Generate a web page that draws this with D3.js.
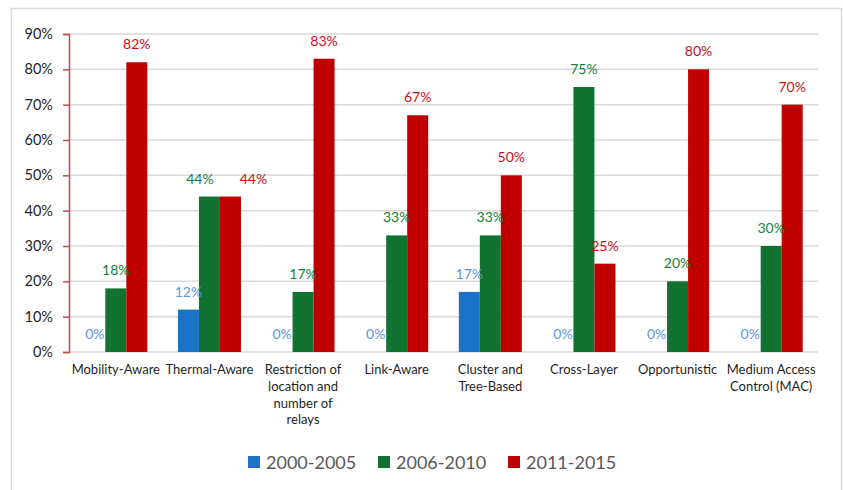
<!DOCTYPE html>
<html>
<head>
<meta charset="utf-8">
<script src="https://cdn.jsdelivr.net/npm/d3@7"></script>
<style>
  html, body { margin: 0; padding: 0; background: #fff; }
  svg { display: block; font-family: Lato, "Open Sans", sans-serif; }
</style>
</head>
<body>
<svg id="chart" width="843" height="490"></svg>
<script>
// Routing approaches and the share of work in each period
const categories = [
  ["Mobility-Aware"],
  ["Thermal-Aware"],
  ["Restriction of", "location and", "number of", "relays"],
  ["Link-Aware"],
  ["Cluster and", "Tree-Based"],
  ["Cross-Layer"],
  ["Opportunistic"],
  ["Medium Access", "Control (MAC)"]
];
const seriesNames = ["2000-2005", "2006-2010", "2011-2015"];
const values2000_2005 = [0, 12, 0, 0, 17, 0, 0, 0];
const values2006_2010 = [18, 44, 17, 33, 33, 75, 20, 30];
const values2011_2015 = [82, 44, 83, 67, 50, 25, 80, 70];
const yTicks = [0, 10, 20, 30, 40, 50, 60, 70, 80, 90];

const barColors = ["#1a73c6", "#117232", "#c00000"];
const labelColors = ["#5b95dc", "#15803a", "#c8101c"];

// Horizontal nudges for value labels that would otherwise collide
// (key: "categoryIndex-seriesIndex", value: dx in pixels)
const labelNudge = { "1-1": -9.5, "1-2": 23 };

const seriesValues = [values2000_2005, values2006_2010, values2011_2015];

const svg = d3.select("#chart");

// Outer frame
svg.append("rect")
  .attr("x", 11.5).attr("y", 8.5)
  .attr("width", 830).attr("height", 500)
  .attr("fill", "none").attr("stroke", "#d9d9d9").attr("stroke-width", 1.5);

const plotLeft = 69, plotRight = 818, plotTop = 34, plotBottom = 352;

const x0 = d3.scaleBand()
  .domain(d3.range(categories.length))
  .range([plotLeft, plotRight])
  .paddingInner(0.327)
  .paddingOuter(0.1635);

const x1 = d3.scaleBand()
  .domain(d3.range(seriesNames.length))
  .range([0, x0.bandwidth()]);

const y = d3.scaleLinear().domain([0, 90]).range([plotBottom, plotTop]);

// Gridlines
svg.append("g")
  .selectAll("line")
  .data(yTicks)
  .join("line")
  .attr("x1", plotLeft).attr("x2", plotRight)
  .attr("y1", d => y(d)).attr("y2", d => y(d))
  .attr("stroke", "#d9d9d9").attr("stroke-width", 1.5);

// Y axis
const yAxis = d3.axisLeft(y)
  .tickValues(yTicks)
  .tickFormat(d => d + "%")
  .tickSize(6)
  .tickPadding(10);

const yg = svg.append("g")
  .attr("transform", `translate(${plotLeft},0)`)
  .call(yAxis);
yg.select(".domain").attr("stroke", "#c0504d").attr("stroke-width", 1.5);
yg.selectAll(".tick line").attr("stroke", "#c0504d").attr("stroke-width", 1.5);
yg.selectAll(".tick text")
  .attr("fill", "#1f1f1f")
  .style("font-size", "14.5px")
  .style("font-family", "Lato, sans-serif");

// Bars
const groups = svg.append("g")
  .selectAll("g")
  .data(categories.map((c, i) => i))
  .join("g")
  .attr("transform", i => `translate(${x0(i)},0)`);

groups.selectAll("rect")
  .data(i => seriesValues.map((vals, s) => ({ i, s, v: vals[i] })))
  .join("rect")
  .attr("x", d => x1(d.s))
  .attr("width", x1.bandwidth())
  .attr("y", d => y(d.v))
  .attr("height", d => y(0) - y(d.v))
  .attr("fill", d => barColors[d.s]);

// Value labels
groups.selectAll("text")
  .data(i => seriesValues.map((vals, s) => ({ i, s, v: vals[i] })))
  .join("text")
  .attr("x", d => x1(d.s) + x1.bandwidth() / 2 + (labelNudge[d.i + "-" + d.s] || 0))
  .attr("y", d => y(d.v) - 13)
  .attr("text-anchor", "middle")
  .attr("fill", d => labelColors[d.s])
  .style("font-size", "14px")
  .text(d => d.v + "%");

// Category labels
const catLabels = svg.append("g")
  .selectAll("text")
  .data(categories)
  .join("text")
  .attr("text-anchor", "middle")
  .attr("fill", "#1f1f1f")
  .style("font-size", "13px")
  .attr("transform", (d, i) => `translate(${x0(i) + x0.bandwidth() / 2},374)`);

catLabels.selectAll("tspan")
  .data(d => d)
  .join("tspan")
  .attr("x", 0)
  .attr("dy", (d, j) => j === 0 ? 0 : 16.8)
  .text(d => d);

// Legend
const legendX = [248, 378, 508];
const legend = svg.append("g")
  .selectAll("g")
  .data(seriesNames)
  .join("g")
  .attr("transform", (d, i) => `translate(${legendX[i]},456)`);

legend.append("rect")
  .attr("width", 12).attr("height", 12)
  .attr("fill", (d, i) => barColors[i]);

legend.append("text")
  .attr("x", 18).attr("y", 12.5)
  .attr("fill", "#595959")
  .style("font-size", "18px")
  .text(d => d);
</script>
</body>
</html>
